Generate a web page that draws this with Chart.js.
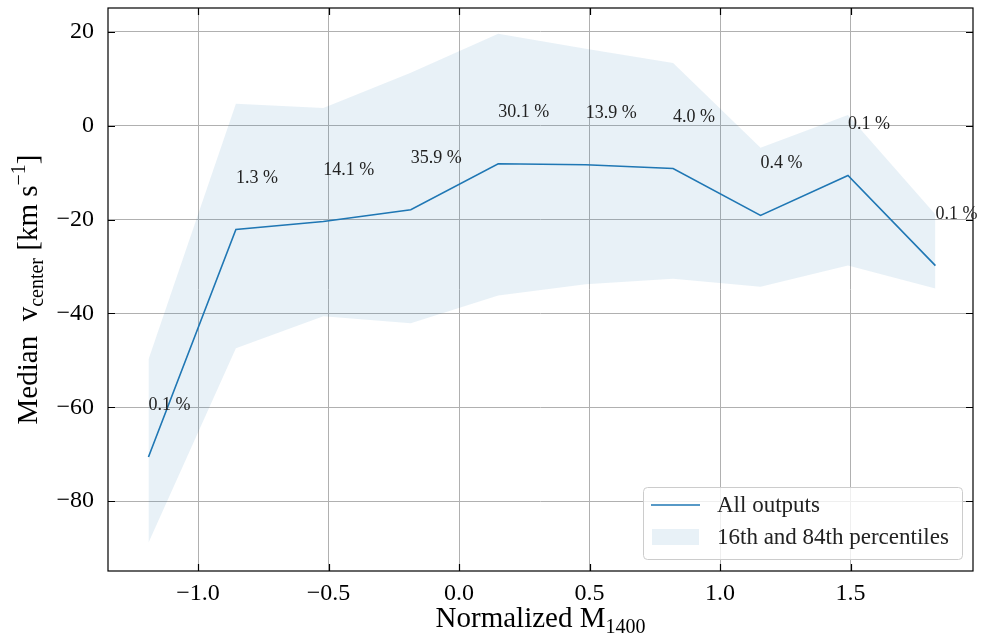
<!DOCTYPE html>
<html>
<head>
<meta charset="utf-8">
<script src="https://cdn.jsdelivr.net/npm/chart.js@4.4.1/dist/chart.umd.min.js"></script>
<style>
  html, body { margin: 0; padding: 0; background: #fff; }
  #wrap { width: 981px; height: 636px; }
</style>
</head>
<body>
<div id="wrap"><canvas id="c" width="981" height="636"></canvas></div>
<script>
// ---- data ----
const massBins   = [-1.19, -0.855, -0.52, -0.185, 0.15, 0.485, 0.82, 1.155, 1.49, 1.825];
const medianV    = [-70.6, -22.1, -20.4, -17.9, -8.1, -8.3, -9.1, -19.1, -10.6, -29.8];
const upper84    = [-49.8, 4.7, 3.8, 11.3, 19.6, 16.4, 13.4, -4.7, 2.3, -18.9];
const lower16    = [-88.9, -47.4, -40.6, -42.1, -36.2, -33.8, -32.6, -34.3, -29.8, -34.7];
const fractions  = ['0.1 %', '1.3 %', '14.1 %', '35.9 %', '30.1 %', '13.9 %', '4.0 %', '0.4 %', '0.1 %', '0.1 %'];
const xTicks     = [-1.0, -0.5, 0.0, 0.5, 1.0, 1.5];
const yTicks     = [-80, -60, -40, -20, 0, 20];
const legendLabels = ['All outputs', '16th and 84th percentiles'];

const FONT = '"Liberation Serif", "DejaVu Serif", serif';
const BLUE = '#1f77b4';
const BAND = 'rgba(31,119,180,0.1)';

const pts = (ys) => massBins.map((x, i) => ({ x: x, y: ys[i] }));
const fmtMinus = (s) => s.replace('-', '\u2212');

function drawRich(ctx, parts, x, y, align) {
  let total = 0;
  parts.forEach(p => { ctx.font = p.size + 'px ' + FONT; p.w = ctx.measureText(p.t).width; total += p.w; });
  let cx = align === 'center' ? x - total / 2 : x;
  ctx.textAlign = 'left';
  ctx.textBaseline = 'alphabetic';
  parts.forEach(p => {
    ctx.font = p.size + 'px ' + FONT;
    ctx.fillText(p.t, cx, y + (p.dy || 0));
    cx += p.w;
  });
}

const decor = {
  id: 'decor',
  afterDraw(chart) {
    const ctx = chart.ctx;
    const a = chart.chartArea;
    const xs = chart.scales.x, ys = chart.scales.y;
    ctx.save();
    ctx.strokeStyle = '#000';
    ctx.lineWidth = 1.2;
    ctx.strokeRect(a.left, a.top, a.right - a.left, a.bottom - a.top);
    const tl = 7;
    xTicks.forEach(v => {
      const px = Math.round(xs.getPixelForValue(v)) + 0.5;
      ctx.beginPath();
      ctx.moveTo(px, a.bottom); ctx.lineTo(px, a.bottom - tl);
      ctx.moveTo(px, a.top); ctx.lineTo(px, a.top + tl);
      ctx.stroke();
    });
    yTicks.forEach(v => {
      const py = Math.round(ys.getPixelForValue(v)) + 0.5;
      ctx.beginPath();
      ctx.moveTo(a.left, py); ctx.lineTo(a.left + tl, py);
      ctx.moveTo(a.right, py); ctx.lineTo(a.right - tl, py);
      ctx.stroke();
    });
    // percentage annotations
    ctx.fillStyle = '#222';
    ctx.font = '18px ' + FONT;
    ctx.textAlign = 'left';
    ctx.textBaseline = 'alphabetic';
    fractions.forEach((t, i) => {
      ctx.fillText(t, xs.getPixelForValue(massBins[i]), ys.getPixelForValue(medianV[i] + 10));
    });
    // axis titles
    ctx.fillStyle = '#000';
    drawRich(ctx, [
      { t: 'Normalized M', size: 29 },
      { t: '1400', size: 20, dy: 6 }
    ], (a.left + a.right) / 2, 627, 'center');
    ctx.save();
    ctx.translate(37, (a.top + a.bottom) / 2);
    ctx.rotate(-Math.PI / 2);
    drawRich(ctx, [
      { t: 'Median  v', size: 29 },
      { t: 'center', size: 20, dy: 6 },
      { t: ' [km s', size: 29 },
      { t: '\u22121', size: 20, dy: -12 },
      { t: ']', size: 29 }
    ], 0, 0, 'center');
    ctx.restore();
    // legend
    const lw = 319, lh = 72;
    const lx = a.right - 11 - lw, ly = a.bottom - 12 - lh;
    ctx.beginPath();
    ctx.roundRect(lx + 0.5, ly + 0.5, lw, lh, 4);
    ctx.fillStyle = 'rgba(255,255,255,0.8)';
    ctx.fill();
    ctx.strokeStyle = '#cccccc';
    ctx.lineWidth = 1;
    ctx.stroke();
    ctx.strokeStyle = BLUE;
    ctx.lineWidth = 1.6;
    ctx.beginPath();
    ctx.moveTo(lx + 8, ly + 18); ctx.lineTo(lx + 57, ly + 18);
    ctx.stroke();
    ctx.fillStyle = BAND;
    ctx.fillRect(lx + 9, ly + 42, 47, 16);
    ctx.fillStyle = '#222';
    ctx.font = '23px ' + FONT;
    ctx.textBaseline = 'middle';
    ctx.fillText(legendLabels[0], lx + 74, ly + 19);
    ctx.fillText(legendLabels[1], lx + 74, ly + 51);
    ctx.restore();
  }
};

new Chart(document.getElementById('c'), {
  type: 'scatter',
  data: {
    datasets: [
      { label: legendLabels[0], data: pts(medianV), showLine: true, borderColor: BLUE, borderWidth: 1.6,
        pointRadius: 0, fill: false, tension: 0 },
      { label: legendLabels[1], data: pts(upper84), showLine: true, borderWidth: 0, borderColor: 'rgba(0,0,0,0)',
        backgroundColor: BAND, pointRadius: 0, fill: '+1', tension: 0 },
      { label: 'lower', data: pts(lower16), showLine: true, borderWidth: 0, borderColor: 'rgba(0,0,0,0)',
        pointRadius: 0, fill: false, tension: 0 }
    ]
  },
  options: {
    responsive: false,
    animation: false,
    devicePixelRatio: 1,
    layout: { padding: { top: 8, right: 8, left: 0, bottom: 0 } },
    plugins: { legend: { display: false }, tooltip: { enabled: false } },
    scales: {
      x: {
        type: 'linear', min: -1.345, max: 1.969,
        afterBuildTicks: (s) => { s.ticks = xTicks.map(v => ({ value: v })); },
        afterFit: (s) => { s.height = 65; s.paddingLeft = 0; s.paddingRight = 0; },
        grid: { color: '#b0b0b0', lineWidth: 1, drawTicks: false },
        border: { display: false },
        ticks: { padding: 8, color: '#000', font: { family: FONT, size: 24 },
          callback: (v) => fmtMinus(Number(v).toFixed(1)), maxRotation: 0, autoSkip: false }
      },
      y: {
        type: 'linear', min: -94.9, max: 25.1,
        afterBuildTicks: (s) => { s.ticks = yTicks.map(v => ({ value: v })); },
        afterFit: (s) => { s.width = 108; s.paddingTop = 0; s.paddingBottom = 0; },
        grid: { color: '#b0b0b0', lineWidth: 1, drawTicks: false },
        border: { display: false },
        ticks: { padding: 14, color: '#000', font: { family: FONT, size: 24 },
          callback: (v) => fmtMinus(String(v)), autoSkip: false }
      }
    }
  },
  plugins: [decor]
});
</script>
</body>
</html>
